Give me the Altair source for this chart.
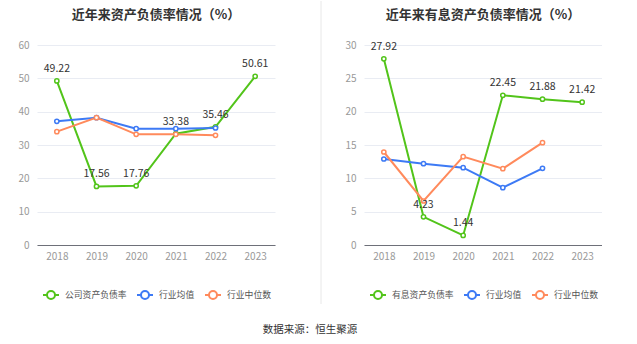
import altair as alt
import pandas as pd

years = ["2018", "2019", "2020", "2021", "2022", "2023"]
ind_years = ["2018", "2019", "2020", "2021", "2022"]

left_title = "近年来资产负债率情况（%）"
left_names = ["公司资产负债率", "行业均值", "行业中位数"]
left_company = [49.22, 17.56, 17.76, 33.38, 35.46, 50.61]
left_mean = [37.1, 38.2, 34.9, 34.9, 35.1]
left_median = [34.0, 38.2, 33.2, 33.2, 32.9]

right_title = "近年来有息资产负债率情况（%）"
right_names = ["有息资产负债率", "行业均值", "行业中位数"]
right_company = [27.92, 4.23, 1.44, 22.45, 21.88, 21.42]
right_mean = [12.9, 12.2, 11.6, 8.6, 11.5]
right_median = [13.95, 6.6, 13.25, 11.45, 15.35]

source_text = "数据来源：恒生聚源"

colors = ["#52c41a", "#3d7af5", "#ff8a5c"]
FONT = "Noto Sans CJK SC"
SYMBOL = "M-1,0L-0.5,0M0.5,0L1,0M-0.5,0A0.5,0.5,0,1,1,0.5,0A0.5,0.5,0,1,1,-0.5,0Z"


def build_df(names, company, mean, median):
    rows = []
    for y, v in zip(years, company):
        rows.append({"year": y, "series": names[0], "value": v, "label": f"{v:.2f}"})
    for y, v in zip(ind_years, mean):
        rows.append({"year": y, "series": names[1], "value": v, "label": ""})
    for y, v in zip(ind_years, median):
        rows.append({"year": y, "series": names[2], "value": v, "label": ""})
    return pd.DataFrame(rows)


def panel(title, names, company, mean, median, ymax, step):
    df = build_df(names, company, mean, median)
    base = alt.Chart(df)
    x = alt.X("year:O", title=None, sort=years,
              axis=alt.Axis(labelAngle=0, domainColor="#6e7079", ticks=False,
                            labelColor="#999999", labelFontSize=10, labelPadding=6,
                            labelFont=FONT))
    y = alt.Y("value:Q", title=None,
              scale=alt.Scale(domain=[0, ymax], nice=False),
              axis=alt.Axis(values=list(range(0, ymax + 1, step)), domain=False, ticks=False,
                            gridColor="#e9ecf3", labelColor="#999999", labelFontSize=10,
                            labelPadding=8, labelFont=FONT))
    color = alt.Color("series:N", sort=names,
                      scale=alt.Scale(domain=names, range=colors),
                      legend=alt.Legend(title=None, orient="none", direction="horizontal",
                                        legendX=5, legendY=241,
                                        symbolType=SYMBOL, symbolSize=256,
                                        symbolStrokeWidth=2, symbolFillColor="white",
                                        labelFont=FONT, labelFontSize=8.8, labelColor="#555555",
                                        labelOffset=5, columnPadding=6))
    lines = base.mark_line(strokeWidth=2).encode(x=x, y=y, color=color)
    pts = base.mark_point(shape="circle", filled=True, fill="white", size=18,
                          strokeWidth=1.5, opacity=1).encode(
        x=x, y=y, stroke=alt.Color("series:N", scale=alt.Scale(domain=names, range=colors), legend=None))
    txt = base.transform_filter(alt.datum.series == names[0]).mark_text(
        dy=-12, fontSize=10.5, color="#333333", font=FONT).encode(x=x, y=y, text="label:N")
    return alt.layer(lines, pts, txt).properties(
        width=238, height=200,
        title=alt.TitleParams(title, fontSize=13, fontWeight="bold", color="#333333",
                              font=FONT, anchor="middle", offset=18))


left = panel(left_title, left_names, left_company, left_mean, left_median, 60, 10)
right = panel(right_title, right_names, right_company, right_mean, right_median, 30, 5)

sep = alt.Chart(alt.Data(values=[{"a": 1}])).mark_rule(color="#e8e8e8", strokeWidth=1).encode(
    x=alt.value(26), y=alt.value(-44), y2=alt.value(259)).properties(width=29, height=200)

chart = alt.hconcat(left, sep, right, spacing=20).resolve_scale(color="independent", stroke="independent").properties(
    title=alt.TitleParams(source_text, orient="bottom", anchor="middle", fontSize=10.5,
                          fontWeight="normal", color="#333333", font=FONT, offset=20),
    padding={"left": 17, "top": 0, "right": 0, "bottom": 0},
).configure_view(stroke=None)

chart.save("out.html", embed_options={"renderer": "svg", "actions": False})
